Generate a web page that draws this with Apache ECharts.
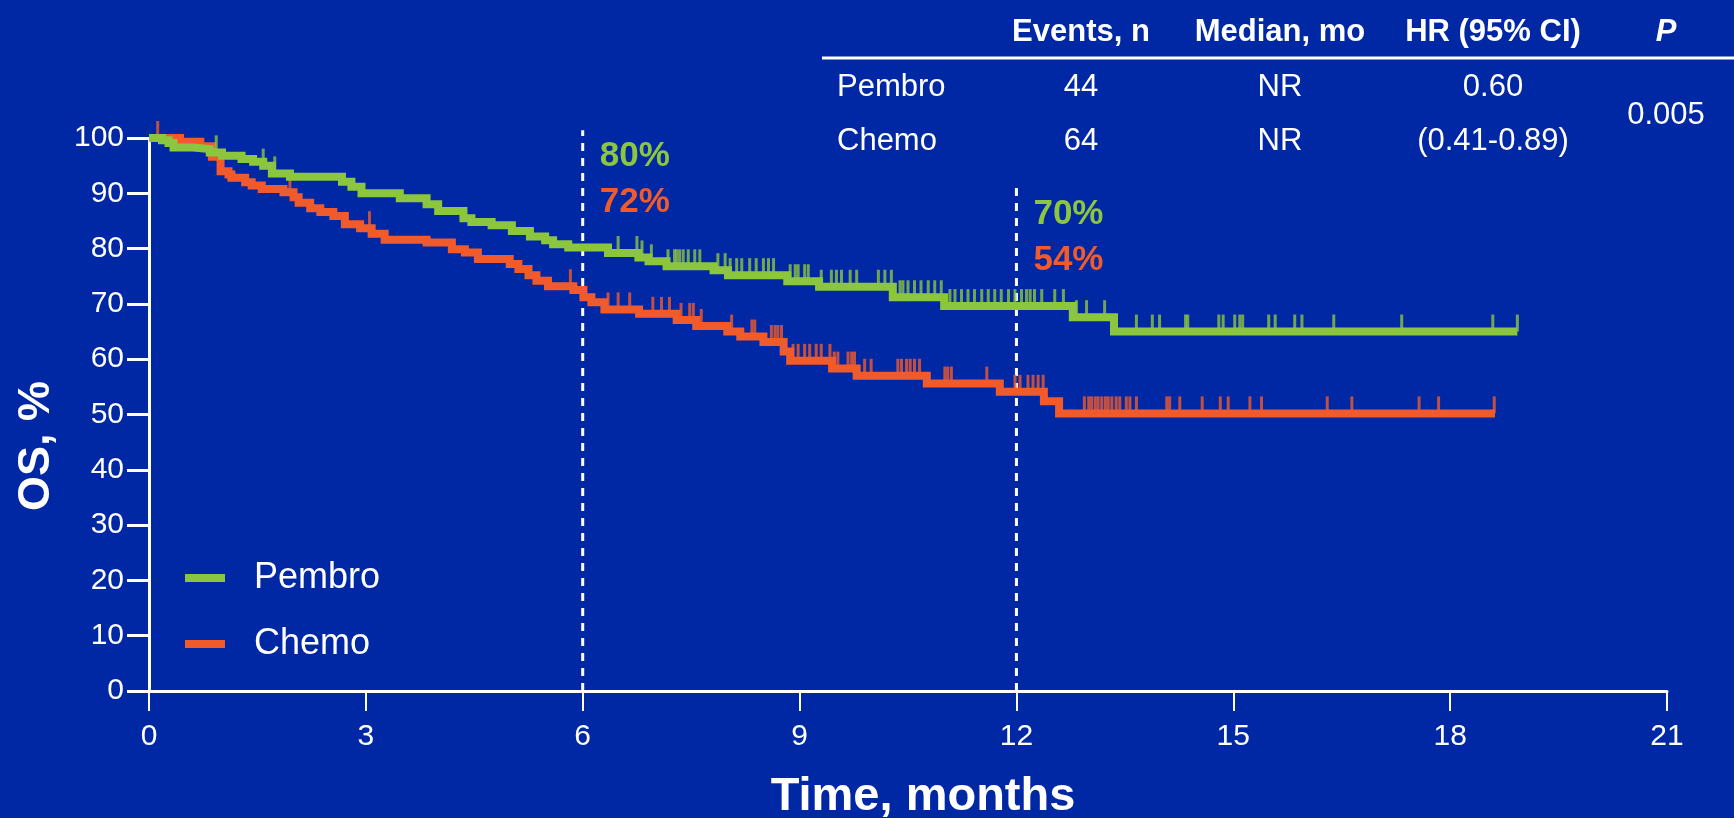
<!DOCTYPE html>
<html><head><meta charset="utf-8">
<script src="https://cdn.jsdelivr.net/npm/echarts@6/dist/echarts.min.js"></script>
<style>html,body{margin:0;padding:0;background:#0028A5;}#c{width:1734px;height:818px;}</style>
</head><body><div id="c"></div>
<script>
// ---------- DATA ----------
const xTicks = [0, 3, 6, 9, 12, 15, 18, 21];
const yTicks = [0, 10, 20, 30, 40, 50, 60, 70, 80, 90, 100];
const seriesNames = ['Pembro', 'Chemo'];

// Kaplan-Meier steps [month, OS %]
const pembroSteps = [[0,100],[0.18,99.6],[0.27,99.1],[0.34,98.3],[0.61,98.0],[0.84,97.4],[1.01,96.8],[1.28,96.2],[1.44,95.7],[1.58,95.0],[1.70,93.6],[1.95,93.0],[2.67,92.1],[2.80,91.2],[2.94,90.0],[3.47,89.1],[3.84,88.0],[4.00,86.8],[4.35,85.5],[4.46,84.8],[4.74,84.2],[5.02,83.2],[5.27,82.2],[5.48,81.5],[5.59,80.8],[5.80,80.2],[6.35,79.2],[6.77,78.4],[6.91,77.7],[7.16,76.8],[7.81,76.1],[8.01,75.2],[8.83,74.1],[9.27,73.1],[10.29,71.2],[11.00,69.6],[12.78,67.6],[13.35,65.0],[18.93,65.0]];
const chemoSteps = [[0,100],[0.43,99.3],[0.71,98.5],[0.87,96.6],[0.99,94.0],[1.10,93.4],[1.14,92.8],[1.33,92.0],[1.42,91.4],[1.56,90.8],[1.86,90.2],[2.00,89.3],[2.07,88.3],[2.23,87.3],[2.37,86.6],[2.55,85.9],[2.71,84.4],[2.92,83.7],[3.08,82.7],[3.26,81.6],[3.84,81.1],[4.19,79.9],[4.37,79.3],[4.55,78.1],[4.99,77.2],[5.11,76.3],[5.25,75.2],[5.36,74.2],[5.52,73.2],[5.87,72.5],[6.01,71.2],[6.12,70.3],[6.30,69.0],[6.78,68.2],[7.30,67.1],[7.57,66.0],[8.00,65.0],[8.18,64.1],[8.50,63.1],[8.78,61.4],[8.87,59.7],[9.45,58.3],[9.79,57.0],[10.76,55.6],[11.77,54.1],[12.38,52.4],[12.59,50.2],[18.62,50.2]];

// censoring times (months)
const pembroCensor = [0.93,1.58,1.74,6.49,6.75,6.82,6.95,7.18,7.27,7.30,7.34,7.39,7.46,7.55,7.62,7.87,7.97,8.04,8.13,8.20,8.31,8.40,8.50,8.57,8.64,8.87,8.94,8.98,9.07,9.12,9.30,9.44,9.51,9.58,9.70,9.79,10.09,10.18,10.27,10.39,10.43,10.50,10.59,10.68,10.78,10.87,10.96,11.08,11.15,11.24,11.33,11.42,11.52,11.61,11.70,11.79,11.89,11.98,12.07,12.14,12.19,12.25,12.35,12.53,12.65,12.83,12.97,13.22,13.38,13.66,13.88,13.98,14.34,14.37,14.80,14.86,15.02,15.09,15.13,15.49,15.58,15.85,15.95,16.39,17.33,18.59,18.93];
const chemoCensor = [0.12,1.95,3.05,5.83,6.35,6.49,6.65,6.97,7.09,7.20,7.36,7.48,7.53,7.64,8.06,8.34,8.38,8.61,8.66,8.70,8.75,8.91,8.98,9.07,9.14,9.23,9.30,9.42,9.48,9.53,9.67,9.72,9.76,9.90,9.99,10.36,10.41,10.48,10.53,10.59,10.66,11.01,11.05,11.10,11.59,11.98,12.05,12.16,12.23,12.30,12.37,12.94,13.00,13.04,13.09,13.13,13.18,13.23,13.27,13.32,13.38,13.43,13.52,13.57,13.66,14.08,14.12,14.26,14.57,14.82,14.93,15.23,15.39,16.30,16.64,17.57,17.84,18.61];

// landmark annotations
const landmarkMonths = [6, 12];
const landmarkPembro = ['80%', '70%'];
const landmarkChemo = ['72%', '54%'];

// table
const tableHeader = ['Events, n', 'Median, mo', 'HR (95% CI)', 'P'];
const tableRows = [['Pembro', '44', 'NR', '0.60'], ['Chemo', '64', 'NR', '(0.41-0.89)']];
const pValue = '0.005';

// ---------- STYLE ----------
const BG = '#0028A5', GREEN = '#8CC63F', ORANGE = '#F15A2B', WHITE = '#FFFFFF';
const FONT = '"Liberation Sans", Arial, Helvetica, sans-serif';

function levelAt(steps, t) {
  let v = steps[0][1];
  for (const s of steps) { if (s[0] <= t + 1e-9) v = s[1]; else break; }
  return v;
}

const chart = echarts.init(document.getElementById('c'), null, {renderer: 'canvas'});

function censorSeries(name, steps, times, color, z) {
  return {
    name: name, type: 'scatter', clip: false, z: z, silent: true,
    symbol: 'rect', symbolSize: [3, 17], symbolOffset: [0, '-50%'],
    itemStyle: {color: color},
    data: times.map(t => [t, levelAt(steps, t)])
  };
}

const lineTop = [101.4, 91.0]; // top of dashed landmark lines (axis value)

const option = {
  backgroundColor: BG,
  animation: false,
  textStyle: {fontFamily: FONT},
  grid: {left: 149, right: 67, top: 138, bottom: 127, containLabel: false, outerBoundsMode: 'none'},
  legend: {
    data: seriesNames, orient: 'vertical', left: 180, top: 553,
    icon: 'rect', itemWidth: 40, itemHeight: 8, itemGap: 26,
    itemStyle: {borderWidth: 0},
    textStyle: {color: WHITE, fontSize: 36, lineHeight: 40, fontFamily: FONT, padding: [0, 0, 0, 24]}
  },
  xAxis: {
    type: 'value', min: 0, max: 21, interval: 3,
    axisLine: {lineStyle: {color: WHITE, width: 3}},
    axisTick: {show: true, length: 20, lineStyle: {color: WHITE, width: 2}},
    axisLabel: {color: WHITE, fontSize: 30, margin: 31, fontFamily: FONT,
      formatter: v => xTicks.includes(v) ? String(v) : ''},
    splitLine: {show: false}
  },
  yAxis: {
    type: 'value', min: 0, max: 100, interval: 10,
    axisLine: {show: true, lineStyle: {color: WHITE, width: 3}},
    axisTick: {show: true, length: 22, lineStyle: {color: WHITE, width: 3}},
    axisLabel: {color: WHITE, fontSize: 30, margin: 25, fontFamily: FONT,
      formatter: v => yTicks.includes(v) ? String(v) : ''},
    splitLine: {show: false}
  },
  series: [
    {
      name: 'Chemo', type: 'line', step: 'end', symbol: 'none', clip: false, z: 2,
      color: ORANGE, itemStyle: {color: ORANGE},
      lineStyle: {color: ORANGE, width: 8, join: 'miter'},
      data: chemoSteps
    },
    {
      name: 'Pembro', type: 'line', step: 'end', symbol: 'none', clip: false, z: 3,
      color: GREEN, itemStyle: {color: GREEN},
      lineStyle: {color: GREEN, width: 8, join: 'miter'},
      data: pembroSteps
    },
    censorSeries('Chemo censored', chemoSteps, chemoCensor, ORANGE, 2),
    censorSeries('Pembro censored', pembroSteps, pembroCensor, GREEN, 3)
  ]
};
chart.setOption(option);

// ---------- landmark lines, annotations / table / axis titles ----------
const g = [];
landmarkMonths.forEach((m, i) => {
  const p0 = chart.convertToPixel({gridIndex: 0}, [m, 0]);
  const p = chart.convertToPixel({gridIndex: 0}, [m, lineTop[i]]);
  g.push({type: 'line', silent: true, z: 1,
    shape: {x1: p0[0], y1: p0[1], x2: p[0], y2: p[1]},
    style: {stroke: WHITE, lineWidth: 3, lineDash: [8, 7]}});
  const x = p[0] + 17;
  g.push({type: 'text', left: x, top: p[1] + 27 - 18, silent: true,
    style: {text: landmarkPembro[i], fill: GREEN, font: 'bold 35px ' + FONT}});
  g.push({type: 'text', left: x, top: p[1] + 73 - 18, silent: true,
    style: {text: landmarkChemo[i], fill: ORANGE, font: 'bold 35px ' + FONT}});
});

// axis titles
g.push({type: 'text', x: 37, y: 446, rotation: Math.PI / 2, silent: true,
  style: {text: 'OS, %', fill: WHITE, font: 'bold 45px ' + FONT, align: 'center', verticalAlign: 'middle'}});
g.push({type: 'text', x: 923, y: 797, silent: true,
  style: {text: 'Time, months', fill: WHITE, font: 'bold 47px ' + FONT, align: 'center', verticalAlign: 'middle'}});

// table
const colX = [1081, 1280, 1493, 1666];
tableHeader.forEach((h, i) => {
  g.push({type: 'text', x: colX[i], y: 32, silent: true,
    style: {text: h, fill: WHITE, font: (i === 3 ? 'italic ' : '') + 'bold 31px ' + FONT, align: 'center', verticalAlign: 'middle'}});
});
g.push({type: 'line', silent: true, shape: {x1: 822, y1: 58, x2: 1734, y2: 58}, style: {stroke: WHITE, lineWidth: 3}});
const rowY = [87, 141];
tableRows.forEach((r, ri) => {
  g.push({type: 'text', x: 837, y: rowY[ri], silent: true,
    style: {text: r[0], fill: WHITE, font: '31px ' + FONT, align: 'left', verticalAlign: 'middle'}});
  for (let c = 1; c < r.length; c++) {
    g.push({type: 'text', x: colX[c - 1], y: rowY[ri], silent: true,
      style: {text: r[c], fill: WHITE, font: '31px ' + FONT, align: 'center', verticalAlign: 'middle'}});
  }
});
g.push({type: 'text', x: colX[3], y: 115, silent: true,
  style: {text: pValue, fill: WHITE, font: '31px ' + FONT, align: 'center', verticalAlign: 'middle'}});

chart.setOption({graphic: g});
</script>
</body></html>
